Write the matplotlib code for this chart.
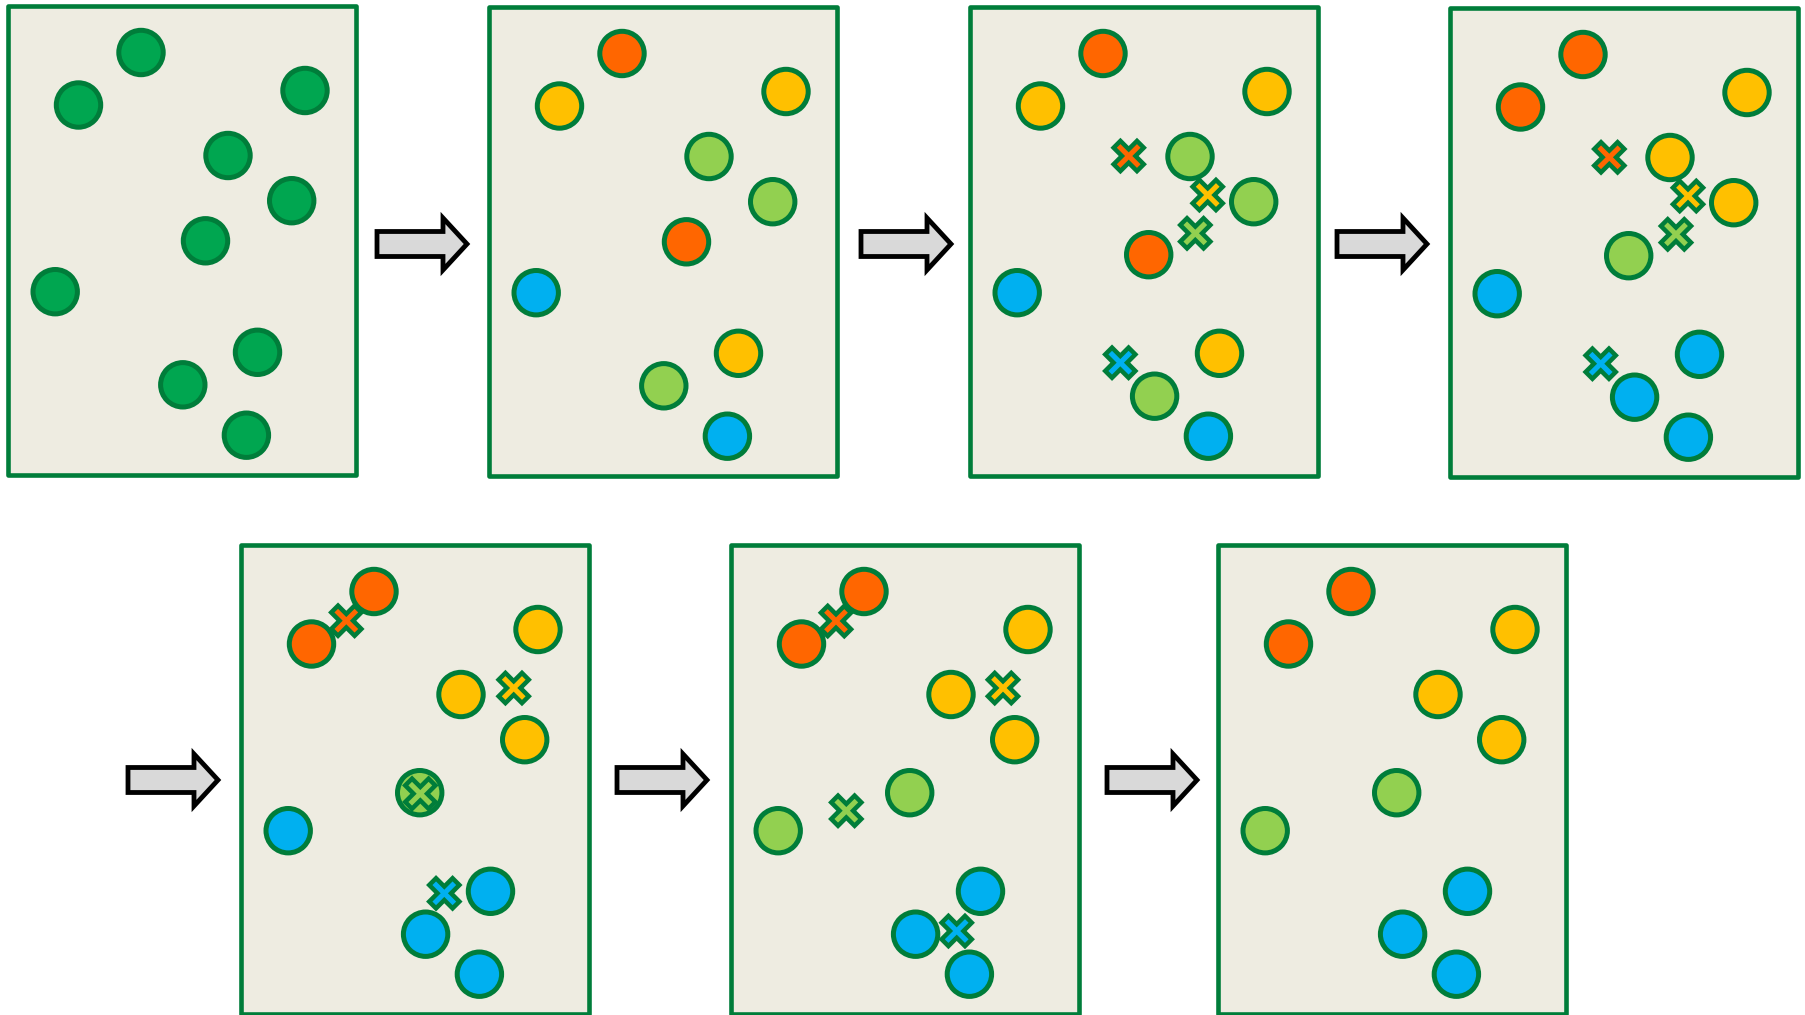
import matplotlib
matplotlib.use("Agg")
import matplotlib.pyplot as plt
import numpy as np
from matplotlib.patches import Rectangle, Circle, Polygon

# cluster colours (office palette)
colors = {"D": "#00A650", "O": "#FF6600", "Y": "#FFC000", "L": "#92D050", "B": "#00B0F0"}
edge_green = "#007D3A"
panel_bg = "#EEECE1"

# point positions inside a panel (px from panel top-left)
# first two panels have points 5 and 8 slightly elsewhere
pt_x_start = [133, 70.5, 297, 220, 283.7, 197.5, 47.2, 249.5, 174.8, 238.4]
pt_y_start = [46.5, 99, 84.5, 149.5, 194.7, 234.8, 285.7, 346.3, 378.8, 429.2]
pt_x = [133, 70.5, 297, 220, 283.7, 178.7, 47.2, 249.5, 184.6, 238.4]
pt_y = [46.5, 99, 84.5, 149.5, 194.7, 247.7, 285.7, 346.3, 389.2, 429.2]

# cluster label of each point, one string per panel
labels = ["DDDDDDDDDD",
          "OYYLLOBYLB",
          "OYYLLOBYLB",
          "OOYYYLBBBB",
          "OOYYYLBBBB",
          "OOYYYLLBBB",
          "OOYYYLLBBB"]

# centroid markers per panel (order: O, Y, L, B)
cent_cols = ["O", "Y", "L", "B"]
cent_x = [None, None,
          [158.7, 237.7, 225.3, 150.3],
          [159.3, 238.0, 226.0, 150.7],
          [105.3, 272.7, 179.3, 203.3],
          [105.0, 272.0, 115.3, 225.7],
          None]
cent_y = [None, None,
          [149.0, 188.0, 226.3, 355.7],
          [149.3, 188.0, 226.3, 355.7],
          [75.7, 143.0, 248.7, 348.3],
          [76.0, 143.0, 265.7, 386.0],
          None]

# layout (pixels)
panel_origin = [(8, 6), (489, 7), (970, 7), (1450, 8), (241, 545), (731, 545), (1218, 545)]
panel_w, panel_h = 348, 469
arrow_pos = [(377, 244), (861, 244), (1337, 244), (128, 780), (617, 780), (1107, 780)]

px = 72 / 100  # points per pixel

fig = plt.figure(figsize=(18.06, 10.15), dpi=100)
ax = fig.add_axes([0, 0, 1, 1])
ax.set_xlim(0, 1806)
ax.set_ylim(1015, 0)
ax.axis("off")


def cross(cx, cy, L=16.5, w=4.8):
    base = np.array([(L, -w), (L, w), (w, w), (w, L), (-w, L), (-w, w),
                     (-L, w), (-L, -w), (-w, -w), (-w, -L), (w, -L), (w, -w)])
    c, s = np.cos(np.pi / 4), np.sin(np.pi / 4)
    rot = base @ np.array([[c, s], [-s, c]])
    return rot + [cx, cy]


for i, (x0, y0) in enumerate(panel_origin):
    ax.add_patch(Rectangle((x0, y0), panel_w, panel_h, facecolor=panel_bg,
                           edgecolor=edge_green, lw=4.6 * px, joinstyle="round", zorder=1))
    xs = pt_x_start if i < 2 else pt_x
    ys = pt_y_start if i < 2 else pt_y
    for k in range(len(xs)):
        ax.add_patch(Circle((x0 + xs[k], y0 + ys[k]), 22.2, facecolor=colors[labels[i][k]],
                            edgecolor=edge_green, lw=5 * px, zorder=2))
    if cent_x[i] is not None:
        for c, cx, cy in zip(cent_cols, cent_x[i], cent_y[i]):
            ax.add_patch(Polygon(cross(x0 + cx, y0 + cy), closed=True, facecolor=colors[c],
                                 edgecolor=edge_green, lw=4.5 * px, joinstyle="miter", zorder=3))

arrow_shape = np.array([(0, -12.5), (66, -12.5), (66, -26), (90, 0),
                        (66, 26), (66, 12.5), (0, 12.5)])
for ax0, ay0 in arrow_pos:
    ax.add_patch(Polygon(arrow_shape + [ax0, ay0], closed=True, facecolor="#D9D9D9",
                         edgecolor="black", lw=4.8 * px, joinstyle="miter", zorder=2))

fig.savefig("out.png", dpi=100, facecolor="white")
